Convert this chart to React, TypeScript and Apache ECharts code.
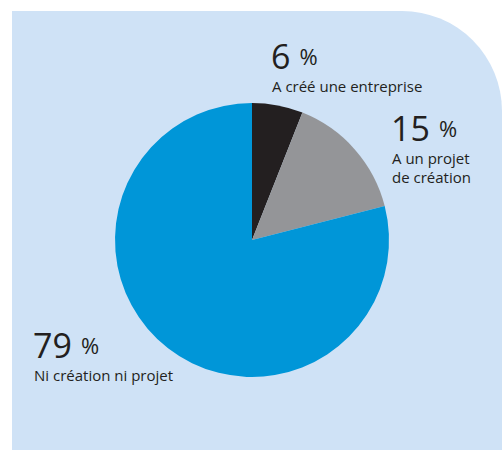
import React, { useEffect, useRef } from "react";
import * as echarts from "echarts";

const categories = ["A créé une entreprise", "A un projet\nde création", "Ni création ni projet"];
const values = [6, 15, 79];
const colors = ["#231f20", "#949598", "#0096d8"];
const labelPos = [
  [271, 68],
  [391, 140],
  [33, 357],
];

export default function App() {
  const ref = useRef<HTMLDivElement>(null);
  useEffect(() => {
    if (!ref.current) return;
    const chart = echarts.init(ref.current, null, { renderer: "svg" });
    const font = "'Open Sans', sans-serif";
    const labels: any[] = [];
    values.forEach((v, i) => {
      const [x, y] = labelPos[i];
      labels.push({
        type: "text",
        x,
        y: y + 3,
        style: {
          text: `{n|${v}}{s| }{p|%}`,
          rich: {
            n: { fontSize: 34, fontFamily: font, fill: "#231f20", lineHeight: 30 },
            s: { fontSize: 14, fontFamily: font, lineHeight: 30, width: 9 },
            p: { fontSize: 22, fontFamily: font, fill: "#231f20", lineHeight: 30 },
          },
          verticalAlign: "bottom",
          align: "left",
        },
        z: 10,
      });
      labels.push({
        type: "text",
        x: x + 1,
        y: y + 8,
        style: {
          text: categories[i],
          fontSize: 15,
          fontFamily: font,
          fill: "#231f20",
          lineHeight: 19,
          verticalAlign: "top",
          align: "left",
        },
        z: 10,
      });
    });
    chart.setOption({
      animation: false,
      graphic: [
        {
          type: "rect",
          shape: { x: 12, y: 11, width: 490, height: 439, r: [0, 100, 0, 0] },
          style: { fill: "#cfe2f6" },
          z: -10,
        },
        ...labels,
      ],
      series: [
        {
          type: "pie",
          center: [252, 240],
          radius: 137,
          startAngle: 90,
          clockwise: true,
          label: { show: false },
          labelLine: { show: false },
          silent: true,
          data: values.map((v, i) => ({
            name: categories[i],
            value: v,
            itemStyle: { color: colors[i] },
          })),
        },
      ],
    });
    return () => chart.dispose();
  }, []);
  return (
    <div
      ref={ref}
      style={{ position: "fixed", left: 0, top: 0, width: 502, height: 450, background: "#ffffff" }}
    />
  );
}
